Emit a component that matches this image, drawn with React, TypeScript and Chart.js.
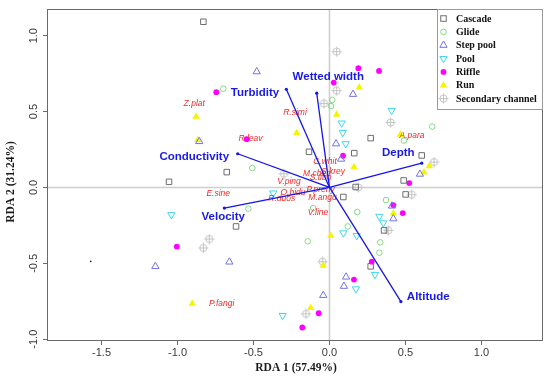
import React, { useEffect, useRef } from "react";
import { Chart, registerables } from "chart.js";
Chart.register(...registerables);

// ---------- data ----------
const xTicks = [-1.5, -1.0, -0.5, 0.0, 0.5, 1.0];
const yTicks = [-1.0, -0.5, 0.0, 0.5, 1.0];
const xRange = [-1.859, 1.405];
const yRange = [-1.012, 1.176];

const xTitle = "RDA 1 (57.49%)";
const yTitle = "RDA 2 (31.24%)";

const groupNames = ["Cascade", "Glide", "Step pool", "Pool", "Riffle", "Run", "Secondary channel"];

const cascade = [
  [-1.056, 0.037], [-0.83, 1.092], [-0.135, 0.235], [0.271, 0.325], [0.163, 0.226], [-0.676, 0.101],
  [0.172, 0.003], [0.607, 0.211], [0.488, 0.046], [0.501, -0.046], [0.359, -0.283], [0.271, -0.52],
  [0.091, -0.063], [-0.615, -0.257],
];
const glide = [
  [-0.699, 0.651], [0.018, 0.577], [0.01, 0.536], [0.676, 0.401], [0.49, 0.309], [-0.508, 0.128],
  [0.372, -0.083], [0.183, -0.162], [0.12, -0.257], [0.334, -0.362], [0.328, -0.43], [-0.534, -0.14],
  [-0.107, -0.136], [-0.143, -0.355],
];
const stepPool = [
  [-1.146, -0.52], [-0.857, 0.303], [-0.479, 0.763], [0.155, 0.614], [0.043, 0.288], [0.076, 0.187],
  [0.595, 0.088], [0.411, -0.122], [0.42, -0.206], [-0.659, -0.491], [0.109, -0.59], [0.095, -0.651],
  [-0.041, -0.711],
];
const pool = [
  [-1.041, -0.18], [0.08, 0.424], [0.087, 0.362], [0.107, 0.288], [0.409, 0.507], [-0.37, -0.037],
  [0.328, -0.191], [0.354, -0.234], [0.091, -0.3], [0.179, -0.318], [0.299, -0.574], [0.174, -0.669],
  [-0.308, -0.844],
];
const riffle = [
  [-1.005, -0.39], [-0.745, 0.628], [-0.545, 0.318], [0.19, 0.786], [0.326, 0.768], [0.028, 0.691],
  [0.089, 0.209], [0.525, 0.029], [0.42, -0.116], [0.482, -0.169], [0.278, -0.489], [0.161, -0.607],
  [-0.071, -0.829], [-0.179, -0.923],
];
const run = [
  [-0.903, -0.765], [-0.878, 0.467], [-0.867, 0.314], [0.196, 0.66], [0.047, 0.48], [-0.216, 0.36],
  [0.161, 0.134], [0.466, 0.349], [0.657, 0.141], [0.622, 0.099], [0.42, -0.171], [0.008, -0.318],
  [-0.041, -0.515], [-0.124, -0.794],
];
const secondary = [
  [0.047, 0.895], [0.047, 0.638], [-0.036, 0.553], [0.402, 0.428], [0.688, 0.167], [-0.3, 0.09],
  [0.19, 0.0], [0.541, -0.048], [0.387, -0.283], [-0.791, -0.34], [-0.83, -0.399], [-0.045, -0.489],
  [-0.155, -0.833],
];
const strayDot = [[-1.571, -0.487]];

const vectorNames = ["Wetted width", "Turbidity", "Conductivity", "Depth", "Velocity", "Altitude"];
const vectorX = [-0.084, -0.284, -0.604, 0.607, -0.692, 0.47];
const vectorY = [0.621, 0.647, 0.222, 0.16, -0.136, -0.752];
const vectorLabelX = [-0.008, -0.49, -0.89, 0.453, -0.699, 0.65];
const vectorLabelY = [0.726, 0.621, 0.204, 0.226, -0.191, -0.721];

const speciesNames = [
  "Z.plat", "R.simi", "R.leav", "C.whit", "M.chen", "S.krey", "S.tibo", "V.ping",
  "P.preny", "O.bidu", "R.duos", "M.angu", "E.sine", "V.line", "A.para", "P.fangi",
];
const speciesX = [-0.89, -0.227, -0.52, -0.03, -0.082, 0.023, -0.059, -0.266, -0.058, -0.24, -0.314, -0.046, -0.732, -0.076, 0.543, -0.709];
const speciesY = [0.555, 0.493, 0.322, 0.171, 0.09, 0.105, 0.062, 0.039, -0.012, -0.033, -0.074, -0.07, -0.041, -0.168, 0.34, -0.767];

// ---------- styles ----------
const C_CASCADE = "#6e6e6e";
const C_GLIDE = "#86d886";
const C_STEP = "#7373e6";
const C_POOL = "#3fd6ec";
const C_RIFFLE = "#ff00ff";
const C_RUN = "#f5f500";
const C_SEC = "#c4c4c4";
const AXIS = "#6a6a6a";

function makeCrossCircle(color: string) {
  const c = document.createElement("canvas");
  c.width = 11;
  c.height = 11;
  const g = c.getContext("2d")!;
  g.strokeStyle = color;
  g.lineWidth = 1;
  g.beginPath();
  g.arc(5.5, 5.5, 3.6, 0, Math.PI * 2);
  g.stroke();
  g.beginPath();
  g.moveTo(5.5, 0.5);
  g.lineTo(5.5, 10.5);
  g.moveTo(0.5, 5.5);
  g.lineTo(10.5, 5.5);
  g.stroke();
  return c;
}

function drawMarker(ctx: CanvasRenderingContext2D, idx: number, x: number, y: number, img: HTMLCanvasElement) {
  ctx.save();
  ctx.lineWidth = 1;
  const tri = (r: number, down: boolean) => {
    const s = down ? -1 : 1;
    ctx.beginPath();
    ctx.moveTo(x, y - s * r);
    ctx.lineTo(x + r * 0.866, y + s * r * 0.5);
    ctx.lineTo(x - r * 0.866, y + s * r * 0.5);
    ctx.closePath();
  };
  switch (idx) {
    case 0:
      ctx.strokeStyle = C_CASCADE;
      ctx.strokeRect(x - 2.75, y - 2.75, 5.5, 5.5);
      break;
    case 1:
      ctx.strokeStyle = C_GLIDE;
      ctx.beginPath();
      ctx.arc(x, y, 2.8, 0, Math.PI * 2);
      ctx.stroke();
      break;
    case 2:
      ctx.strokeStyle = C_STEP;
      tri(4.2, false);
      ctx.stroke();
      break;
    case 3:
      ctx.strokeStyle = C_POOL;
      tri(4.2, true);
      ctx.stroke();
      break;
    case 4:
      ctx.fillStyle = C_RIFFLE;
      ctx.beginPath();
      ctx.arc(x, y, 2.9, 0, Math.PI * 2);
      ctx.fill();
      break;
    case 5:
      ctx.fillStyle = C_RUN;
      tri(4.3, false);
      ctx.fill();
      break;
    case 6:
      ctx.drawImage(img, x - img.width / 2, y - img.height / 2);
      break;
  }
  ctx.restore();
}

const toPts = (arr: number[][]) => arr.map(([x, y]) => ({ x, y }));

export default function App() {
  const ref = useRef<HTMLCanvasElement | null>(null);

  useEffect(() => {
    if (!ref.current) return;
    const secImg = makeCrossCircle(C_SEC);

    const bgPlugin = {
      id: "rdaBg",
      beforeDatasetsDraw(chart: any) {
        const { ctx, chartArea: a, scales } = chart;
        const x0 = scales.x.getPixelForValue(0);
        const y0 = scales.y.getPixelForValue(0);
        ctx.save();
        ctx.strokeStyle = "#cfcfcf";
        ctx.lineWidth = 1.6;
        ctx.beginPath();
        ctx.moveTo(a.left, y0);
        ctx.lineTo(a.right, y0);
        ctx.moveTo(x0, a.top);
        ctx.lineTo(x0, a.bottom);
        ctx.stroke();
        ctx.restore();
      },
    };

    const overlayPlugin = {
      id: "rdaOverlay",
      afterDatasetsDraw(chart: any) {
        const { ctx, scales } = chart;
        const sx = scales.x, sy = scales.y;
        ctx.save();
        // species labels
        ctx.font = "italic 8.5px 'Liberation Sans', Arial, sans-serif";
        ctx.fillStyle = "#f22a2a";
        ctx.textAlign = "center";
        ctx.textBaseline = "middle";
        speciesNames.forEach((n, i) => {
          ctx.fillText(n, sx.getPixelForValue(speciesX[i]), sy.getPixelForValue(speciesY[i]));
        });
        // vectors
        const ox = sx.getPixelForValue(0), oy = sy.getPixelForValue(0);
        ctx.strokeStyle = "#1414ee";
        ctx.fillStyle = "#1414ee";
        ctx.lineWidth = 1.3;
        vectorNames.forEach((_, i) => {
          const ex = sx.getPixelForValue(vectorX[i]);
          const ey = sy.getPixelForValue(vectorY[i]);
          ctx.beginPath();
          ctx.moveTo(ox, oy);
          ctx.lineTo(ex, ey);
          ctx.stroke();
          ctx.beginPath();
          ctx.arc(ex, ey, 1.6, 0, Math.PI * 2);
          ctx.fill();
        });
        ctx.font = "bold 11.5px 'Liberation Sans', Arial, sans-serif";
        ctx.fillStyle = "#1a1ae8";
        vectorNames.forEach((n, i) => {
          ctx.fillText(n, sx.getPixelForValue(vectorLabelX[i]), sy.getPixelForValue(vectorLabelY[i]));
        });
        ctx.restore();
      },
      afterDraw(chart: any) {
        const { ctx, chartArea: a } = chart;
        ctx.save();
        // frame
        ctx.strokeStyle = AXIS;
        ctx.lineWidth = 1;
        ctx.strokeRect(a.left + 0.5, a.top + 0.5, a.right - a.left - 1, a.bottom - a.top - 1);
        // axis titles
        ctx.fillStyle = "#1a1a1a";
        ctx.font = "bold 11.5px 'Liberation Serif', 'Times New Roman', serif";
        ctx.textAlign = "center";
        ctx.textBaseline = "middle";
        ctx.fillText(xTitle, (a.left + a.right) / 2 + 1, 368);
        ctx.translate(11, 182);
        ctx.rotate(-Math.PI / 2);
        ctx.fillText(yTitle, 0, 0);
        ctx.restore();

        // legend
        ctx.save();
        const lx = 437.5, ly = a.top + 0.5, lw = a.right - 0.5 - 437.5, lh = 100;
        ctx.fillStyle = "#ffffff";
        ctx.fillRect(lx, ly, lw, lh);
        ctx.strokeStyle = "#9a9a9a";
        ctx.lineWidth = 1;
        ctx.strokeRect(lx, ly, lw, lh);
        ctx.font = "bold 10px 'Liberation Serif', 'Times New Roman', serif";
        ctx.fillStyle = "#111";
        ctx.textAlign = "left";
        ctx.textBaseline = "middle";
        groupNames.forEach((n, i) => {
          const yy = 18.5 + i * 13.35;
          drawMarker(ctx, i, 443.5, yy, secImg);
          ctx.fillStyle = "#111";
          ctx.fillText(n, 456, yy + 0.5);
        });
        ctx.restore();
      },
    };

    const tickFont = { family: "'Liberation Sans', Arial, sans-serif", size: 11 };

    const chart = new Chart(ref.current, {
      type: "scatter",
      data: {
        datasets: [
          { label: groupNames[0], data: toPts(cascade), pointStyle: "rect", pointRadius: 3.9, borderColor: C_CASCADE, backgroundColor: "rgba(0,0,0,0)", borderWidth: 1 },
          { label: groupNames[1], data: toPts(glide), pointStyle: "circle", pointRadius: 2.8, borderColor: C_GLIDE, backgroundColor: "rgba(0,0,0,0)", borderWidth: 1 },
          { label: groupNames[2], data: toPts(stepPool), pointStyle: "triangle", pointRadius: 4.2, borderColor: C_STEP, backgroundColor: "rgba(0,0,0,0)", borderWidth: 1 },
          { label: groupNames[3], data: toPts(pool), pointStyle: "triangle", pointRotation: 180, pointRadius: 4.2, borderColor: C_POOL, backgroundColor: "rgba(0,0,0,0)", borderWidth: 1 },
          { label: groupNames[4], data: toPts(riffle), pointStyle: "circle", pointRadius: 2.9, borderColor: C_RIFFLE, backgroundColor: C_RIFFLE, borderWidth: 0 },
          { label: groupNames[5], data: toPts(run), pointStyle: "triangle", pointRadius: 4.3, borderColor: C_RUN, backgroundColor: C_RUN, borderWidth: 0 },
          { label: groupNames[6], data: toPts(secondary), pointStyle: secImg as any, pointRadius: 5, borderColor: C_SEC, backgroundColor: C_SEC },
          { label: "dot", data: toPts(strayDot), pointStyle: "circle", pointRadius: 0.8, borderColor: "#000", backgroundColor: "#000", borderWidth: 0 },
        ] as any,
      },
      options: {
        responsive: false,
        animation: false,
        events: [],
        layout: { padding: { left: 0, top: 9, right: 7, bottom: 0 } },
        plugins: { legend: { display: false }, tooltip: { enabled: false }, title: { display: false } },
        scales: {
          x: {
            type: "linear",
            min: xRange[0],
            max: xRange[1],
            afterBuildTicks: (s: any) => { s.ticks = xTicks.map((v) => ({ value: v })); },
            afterFit: (s: any) => { s.height = 35; },
            grid: { drawOnChartArea: false, drawTicks: true, tickLength: 4, color: AXIS, tickColor: AXIS },
            border: { display: false },
            ticks: { font: tickFont, color: "#3a3a3a", padding: 1, maxRotation: 0, minRotation: 0, autoSkip: false, callback: (v: any) => Number(v).toFixed(1) },
          },
          y: {
            type: "linear",
            min: yRange[0],
            max: yRange[1],
            afterBuildTicks: (s: any) => { s.ticks = yTicks.map((v) => ({ value: v })); },
            afterFit: (s: any) => { s.width = 47; },
            grid: { drawOnChartArea: false, drawTicks: true, tickLength: 4, color: AXIS, tickColor: AXIS },
            border: { display: false },
            ticks: { font: tickFont, color: "#3a3a3a", padding: 0, minRotation: 90, maxRotation: 90, crossAlign: "center", autoSkip: false, callback: (v: any) => Number(v).toFixed(1) },
          },
        },
      } as any,
      plugins: [bgPlugin, overlayPlugin],
    });
    return () => chart.destroy();
  }, []);

  return (
    <canvas
      ref={ref}
      width={550}
      height={376}
      style={{ position: "fixed", left: 0, top: 0, width: 550, height: 376, background: "#fff" }}
    />
  );
}
